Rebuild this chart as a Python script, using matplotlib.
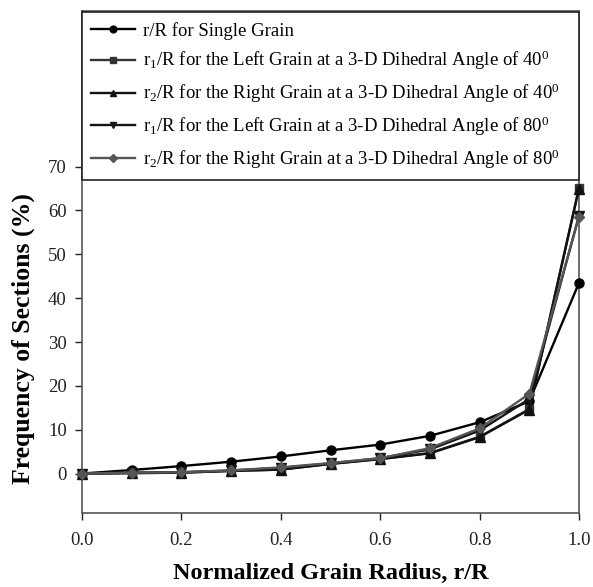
import matplotlib
matplotlib.use("Agg")
import matplotlib.pyplot as plt

plt.rcParams['font.family'] = ['Liberation Serif', 'DejaVu Serif']
plt.rcParams['mathtext.fontset'] = 'custom'
plt.rcParams['mathtext.rm'] = 'Liberation Serif'
plt.rcParams['mathtext.it'] = 'Liberation Serif:italic'
plt.rcParams['mathtext.bf'] = 'Liberation Serif:bold'

x = [0.0, 0.1, 0.2, 0.3, 0.4, 0.5, 0.6, 0.7, 0.8, 0.9, 1.0]
single = [0, 0.8, 1.7, 2.7, 3.9, 5.3, 6.6, 8.6, 11.7, 16.5, 43.5]
r1_40 = [0, 0.1, 0.2, 0.6, 0.9, 2.2, 3.3, 4.7, 8.4, 14.7, 65.2]
r2_40 = [0, 0.1, 0.2, 0.6, 0.9, 2.2, 3.3, 4.6, 8.3, 14.6, 65.0]
r1_80 = [0, 0.2, 0.3, 0.7, 1.3, 2.3, 3.5, 5.5, 9.8, 17.0, 58.8]
r2_80 = [0, 0.2, 0.3, 0.7, 1.4, 2.4, 3.5, 5.8, 10.3, 18.2, 58.6]

labels = [
    "r/R for Single Grain",
    r"r$_\mathrm{1}$/R for the Left Grain at a 3-D Dihedral Angle of 40$^\mathrm{0}$",
    r"r$_\mathrm{2}$/R for the Right Grain at a 3-D Dihedral Angle of 40$^\mathrm{0}$",
    r"r$_\mathrm{1}$/R for the Left Grain at a 3-D Dihedral Angle of 80$^\mathrm{0}$",
    r"r$_\mathrm{2}$/R for the Right Grain at a 3-D Dihedral Angle of 80$^\mathrm{0}$",
]
xticks = [0.0, 0.2, 0.4, 0.6, 0.8, 1.0]
yticks = [0, 10, 20, 30, 40, 50, 60, 70]

fig = plt.figure(figsize=(5.93, 5.87), dpi=100)
ax = fig.add_axes([82/593, 1-513/587, (579-82)/593, (513-11)/587])

series = [single, r1_40, r2_40, r1_80, r2_80]
markers = ['o', 's', '^', 'v', 'D']
colors = ['#000000', '#333333', '#111111', '#151515', '#555555']
msizes = [6.5, 6, 6.5, 6.5, 5.5]
for s, m, c, ms, lab in zip(series, markers, colors, msizes, labels):
    ax.plot(x, s, marker=m, color=c, lw=1.7, ms=ms, label=lab, clip_on=False, zorder=3)

ax.set_xlim(0, 1.0)
ax.set_ylim(-9, 105.5)
ax.set_xticks(xticks)
ax.set_xticklabels([f"{v:.1f}" for v in xticks])
ax.set_yticks(yticks)
ax.tick_params(axis='both', direction='out', length=5, width=1, labelsize=13.5, colors='#222222')
ax.tick_params(axis='x', pad=9)
ax.tick_params(axis='y', pad=6)
for sp in ax.spines.values():
    sp.set_linewidth(1.2)
    sp.set_color('#555555')

ax.set_xlabel("Normalized Grain Radius, r/R", fontsize=17.5, fontweight='bold', labelpad=10)
ax.set_ylabel("Frequency of Sections (%)", fontsize=18.5, fontweight='bold')
ax.yaxis.set_label_coords(-0.094, 0.3466)

leg_bottom = (513-180)/502
leg = ax.legend(loc='lower left', bbox_to_anchor=(0, leg_bottom, 1, 1-leg_bottom), mode='expand',
                frameon=True, fancybox=False, fontsize=13.5, handlelength=2.3, handletextpad=0.45,
                borderaxespad=0, labelspacing=0.5, borderpad=0.5, markerscale=0.75)
leg.get_frame().set_edgecolor('#222222')
leg.get_frame().set_linewidth(1.2)
leg.get_frame().set_alpha(1)

fig.savefig("out.png", dpi=100)
